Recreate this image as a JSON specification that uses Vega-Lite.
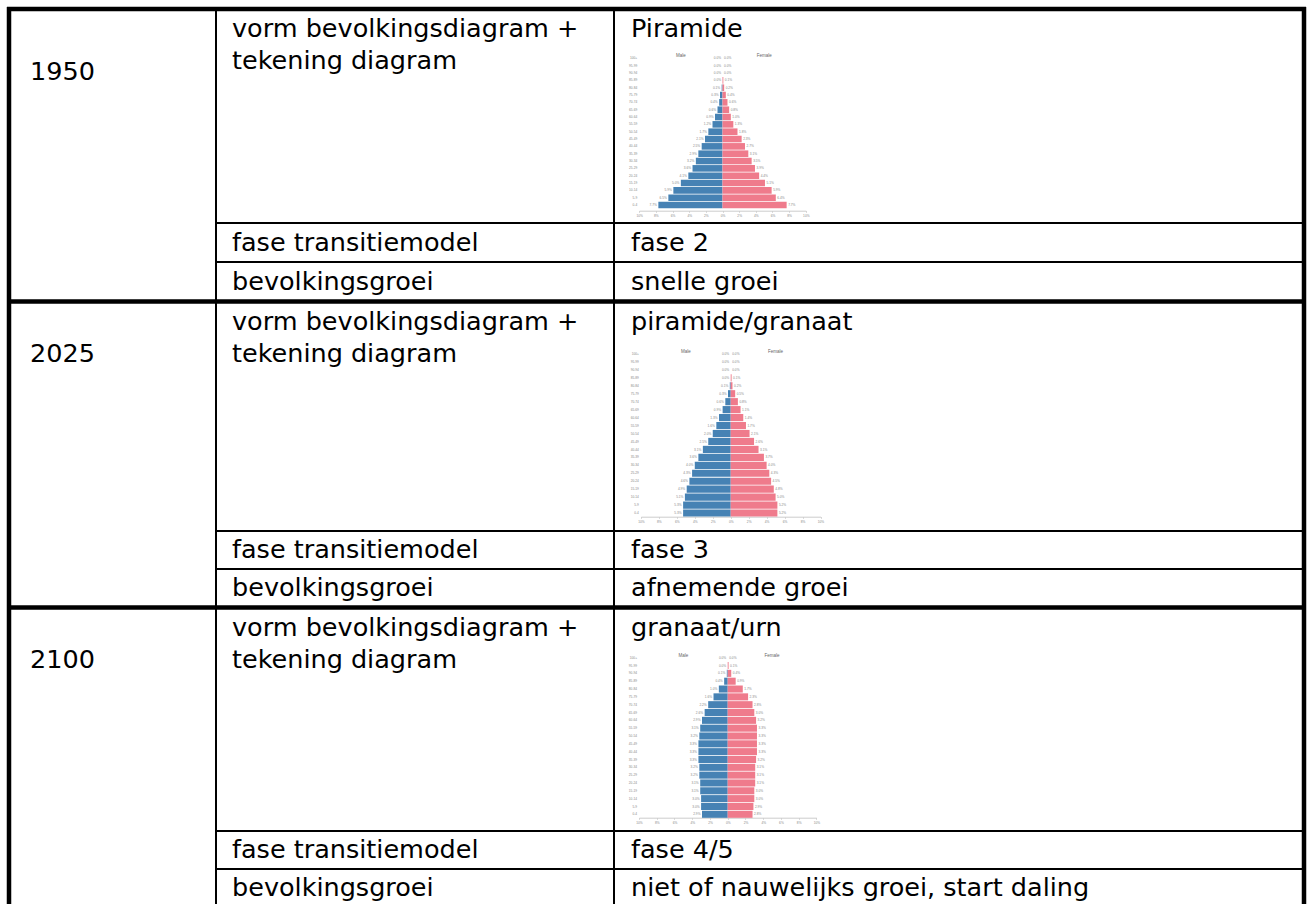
{
"$schema":"https://vega.github.io/schema/vega-lite/v6.json",
"width":1309,"height":904,"autosize":{"type":"none"},"padding":0,"background":"#ffffff",
"config":{"view":{"stroke":null},"font":"DejaVu Sans"},
"datasets":{
"lines":[
{"k":"thick","x":7,"x2":1306,"y":9,"y2":9},
{"k":"thick","x":9,"x2":9,"y":7,"y2":904},
{"k":"thick","x":1304,"x2":1304,"y":7,"y2":904},
{"k":"thick","x":7,"x2":1306,"y":301.5,"y2":301.5},
{"k":"thick","x":7,"x2":1306,"y":607.5,"y2":607.5},
{"k":"thin","x":216,"x2":216,"y":9,"y2":904},
{"k":"thin","x":614,"x2":614,"y":9,"y2":904},
{"k":"thin","x":216,"x2":1304,"y":223,"y2":223},
{"k":"thin","x":216,"x2":1304,"y":262,"y2":262},
{"k":"thin","x":216,"x2":1304,"y":531,"y2":531},
{"k":"thin","x":216,"x2":1304,"y":569,"y2":569},
{"k":"thin","x":216,"x2":1304,"y":831,"y2":831},
{"k":"thin","x":216,"x2":1304,"y":869,"y2":869}
],
"cells":[
{"x":30,"y":72,"t":"1950"},
{"x":232,"y":29,"t":"vorm bevolkingsdiagram +"},
{"x":232,"y":61,"t":"tekening diagram"},
{"x":631,"y":29,"t":"Piramide"},
{"x":232,"y":242.5,"t":"fase transitiemodel"},
{"x":631,"y":242.5,"t":"fase 2"},
{"x":232,"y":281.5,"t":"bevolkingsgroei"},
{"x":631,"y":281.5,"t":"snelle groei"},
{"x":30,"y":354,"t":"2025"},
{"x":232,"y":322,"t":"vorm bevolkingsdiagram +"},
{"x":232,"y":354,"t":"tekening diagram"},
{"x":631,"y":322,"t":"piramide/granaat"},
{"x":232,"y":550,"t":"fase transitiemodel"},
{"x":631,"y":550,"t":"fase 3"},
{"x":232,"y":588,"t":"bevolkingsgroei"},
{"x":631,"y":588,"t":"afnemende groei"},
{"x":30,"y":660,"t":"2100"},
{"x":232,"y":628,"t":"vorm bevolkingsdiagram +"},
{"x":232,"y":660,"t":"tekening diagram"},
{"x":631,"y":628,"t":"granaat/urn"},
{"x":232,"y":850,"t":"fase transitiemodel"},
{"x":631,"y":850,"t":"fase 4/5"},
{"x":232,"y":888,"t":"bevolkingsgroei"},
{"x":631,"y":888,"t":"niet of nauwelijks groei, start daling"}
],
"titles":[{"sex":"M","t":"Male","v":0.05,"age":"100+"},{"sex":"F","t":"Female","v":0.05,"age":"100+"}],
"p1950":[
{"age":"100+","sex":"M","v":0},{"age":"95-99","sex":"M","v":0},{"age":"90-94","sex":"M","v":0},{"age":"85-89","sex":"M","v":0},{"age":"80-84","sex":"M","v":0.001},{"age":"75-79","sex":"M","v":0.003},{"age":"70-74","sex":"M","v":0.004},{"age":"65-69","sex":"M","v":0.006},{"age":"60-64","sex":"M","v":0.009},{"age":"55-59","sex":"M","v":0.012},{"age":"50-54","sex":"M","v":0.017},{"age":"45-49","sex":"M","v":0.021},{"age":"40-44","sex":"M","v":0.025},{"age":"35-39","sex":"M","v":0.029},{"age":"30-34","sex":"M","v":0.032},{"age":"25-29","sex":"M","v":0.036},{"age":"20-24","sex":"M","v":0.041},{"age":"15-19","sex":"M","v":0.05},{"age":"10-14","sex":"M","v":0.059},{"age":"5-9","sex":"M","v":0.065},{"age":"0-4","sex":"M","v":0.077},
{"age":"100+","sex":"F","v":0},{"age":"95-99","sex":"F","v":0},{"age":"90-94","sex":"F","v":0},{"age":"85-89","sex":"F","v":0.001},{"age":"80-84","sex":"F","v":0.002},{"age":"75-79","sex":"F","v":0.004},{"age":"70-74","sex":"F","v":0.006},{"age":"65-69","sex":"F","v":0.008},{"age":"60-64","sex":"F","v":0.01},{"age":"55-59","sex":"F","v":0.013},{"age":"50-54","sex":"F","v":0.018},{"age":"45-49","sex":"F","v":0.023},{"age":"40-44","sex":"F","v":0.027},{"age":"35-39","sex":"F","v":0.031},{"age":"30-34","sex":"F","v":0.035},{"age":"25-29","sex":"F","v":0.039},{"age":"20-24","sex":"F","v":0.044},{"age":"15-19","sex":"F","v":0.051},{"age":"10-14","sex":"F","v":0.059},{"age":"5-9","sex":"F","v":0.064},{"age":"0-4","sex":"F","v":0.077}
],
"p2025":[
{"age":"100+","sex":"M","v":0},{"age":"95-99","sex":"M","v":0},{"age":"90-94","sex":"M","v":0},{"age":"85-89","sex":"M","v":0},{"age":"80-84","sex":"M","v":0.001},{"age":"75-79","sex":"M","v":0.003},{"age":"70-74","sex":"M","v":0.006},{"age":"65-69","sex":"M","v":0.009},{"age":"60-64","sex":"M","v":0.013},{"age":"55-59","sex":"M","v":0.016},{"age":"50-54","sex":"M","v":0.02},{"age":"45-49","sex":"M","v":0.025},{"age":"40-44","sex":"M","v":0.031},{"age":"35-39","sex":"M","v":0.036},{"age":"30-34","sex":"M","v":0.04},{"age":"25-29","sex":"M","v":0.043},{"age":"20-24","sex":"M","v":0.046},{"age":"15-19","sex":"M","v":0.049},{"age":"10-14","sex":"M","v":0.051},{"age":"5-9","sex":"M","v":0.053},{"age":"0-4","sex":"M","v":0.053},
{"age":"100+","sex":"F","v":0},{"age":"95-99","sex":"F","v":0},{"age":"90-94","sex":"F","v":0},{"age":"85-89","sex":"F","v":0.001},{"age":"80-84","sex":"F","v":0.002},{"age":"75-79","sex":"F","v":0.005},{"age":"70-74","sex":"F","v":0.008},{"age":"65-69","sex":"F","v":0.011},{"age":"60-64","sex":"F","v":0.014},{"age":"55-59","sex":"F","v":0.017},{"age":"50-54","sex":"F","v":0.021},{"age":"45-49","sex":"F","v":0.026},{"age":"40-44","sex":"F","v":0.031},{"age":"35-39","sex":"F","v":0.037},{"age":"30-34","sex":"F","v":0.04},{"age":"25-29","sex":"F","v":0.043},{"age":"20-24","sex":"F","v":0.045},{"age":"15-19","sex":"F","v":0.048},{"age":"10-14","sex":"F","v":0.05},{"age":"5-9","sex":"F","v":0.052},{"age":"0-4","sex":"F","v":0.052}
],
"p2100":[
{"age":"100+","sex":"M","v":0},{"age":"95-99","sex":"M","v":0},{"age":"90-94","sex":"M","v":0.001},{"age":"85-89","sex":"M","v":0.004},{"age":"80-84","sex":"M","v":0.01},{"age":"75-79","sex":"M","v":0.016},{"age":"70-74","sex":"M","v":0.022},{"age":"65-69","sex":"M","v":0.026},{"age":"60-64","sex":"M","v":0.029},{"age":"55-59","sex":"M","v":0.031},{"age":"50-54","sex":"M","v":0.032},{"age":"45-49","sex":"M","v":0.033},{"age":"40-44","sex":"M","v":0.033},{"age":"35-39","sex":"M","v":0.033},{"age":"30-34","sex":"M","v":0.032},{"age":"25-29","sex":"M","v":0.032},{"age":"20-24","sex":"M","v":0.031},{"age":"15-19","sex":"M","v":0.031},{"age":"10-14","sex":"M","v":0.03},{"age":"5-9","sex":"M","v":0.03},{"age":"0-4","sex":"M","v":0.029},
{"age":"100+","sex":"F","v":0},{"age":"95-99","sex":"F","v":0.001},{"age":"90-94","sex":"F","v":0.004},{"age":"85-89","sex":"F","v":0.009},{"age":"80-84","sex":"F","v":0.017},{"age":"75-79","sex":"F","v":0.023},{"age":"70-74","sex":"F","v":0.028},{"age":"65-69","sex":"F","v":0.03},{"age":"60-64","sex":"F","v":0.032},{"age":"55-59","sex":"F","v":0.033},{"age":"50-54","sex":"F","v":0.033},{"age":"45-49","sex":"F","v":0.033},{"age":"40-44","sex":"F","v":0.033},{"age":"35-39","sex":"F","v":0.032},{"age":"30-34","sex":"F","v":0.031},{"age":"25-29","sex":"F","v":0.031},{"age":"20-24","sex":"F","v":0.031},{"age":"15-19","sex":"F","v":0.03},{"age":"10-14","sex":"F","v":0.03},{"age":"5-9","sex":"F","v":0.029},{"age":"0-4","sex":"F","v":0.028}
]
},
"layer":[
{
"layer":[
{"data":{"name":"lines"},"transform":[{"filter":"datum.k==='thick'"}],"mark":{"type":"rule","strokeWidth":4.5,"color":"#000000"},
"encoding":{"x":{"field":"x","type":"quantitative","scale":{"domain":[0,1309],"range":[0,1309],"nice":false,"zero":false},"axis":null},"x2":{"field":"x2"},"y":{"field":"y","type":"quantitative","scale":{"domain":[0,904],"range":[0,904],"nice":false,"zero":false},"axis":null},"y2":{"field":"y2"}}},
{"data":{"name":"lines"},"transform":[{"filter":"datum.k==='thin'"}],"mark":{"type":"rule","strokeWidth":2,"color":"#000000"},
"encoding":{"x":{"field":"x","type":"quantitative","axis":null},"x2":{"field":"x2"},"y":{"field":"y","type":"quantitative","axis":null},"y2":{"field":"y2"}}},
{"data":{"name":"cells"},"mark":{"type":"text","align":"left","baseline":"middle","fontSize":25.5,"color":"#000000","font":"DejaVu Sans"},
"encoding":{"x":{"field":"x","type":"quantitative","axis":null},"y":{"field":"y","type":"quantitative","axis":null},"text":{"field":"t"}}}
]
},
{
"data":{"name":"p1950"},
"encoding":{"y":{"field":"age","type":"nominal","sort":null,"scale":{"domain":["100+","95-99","90-94","85-89","80-84","75-79","70-74","65-69","60-64","55-59","50-54","45-49","40-44","35-39","30-34","25-29","20-24","15-19","10-14","5-9","0-4"],"range":[54.7,208.7],"paddingInner":0.1,"paddingOuter":0.05},"axis":null}},
"layer":[
{"transform":[{"filter":"datum.sex==='M'"}],
"encoding":{"x":{"field":"v","type":"quantitative","scale":{"domain":[0,0.1],"range":[722.5,639.2],"nice":false},"axis":{"orient":"bottom","offset":-693.3,"values":[0,0.02,0.04,0.06,0.08,0.1],"format":".0%","title":null,"grid":false,"labelFontSize":3.2,"labelColor":"#888888","labelFont":"Liberation Sans","tickSize":1.5,"tickColor":"#cccccc","domainColor":"#cccccc","labelPadding":1,"labelFlush":false,"labelOverlap":false}}},
"layer":[
{"mark":{"type":"bar","color":"#4682b4"}},
{"mark":{"type":"text","align":"right","baseline":"middle","dx":-1.5,"fontSize":3.2,"color":"#888888","font":"Liberation Sans"},"encoding":{"text":{"field":"v","type":"quantitative","format":".1%"}}},
{"mark":{"type":"text","align":"right","baseline":"middle","dx":-2,"fontSize":3.2,"color":"#888888","font":"Liberation Sans"},"encoding":{"x":{"datum":0.1,"type":"quantitative"},"text":{"field":"age"}}},
{"data":{"values":[{}]},"mark":{"type":"rule","color":"#cccccc","strokeWidth":1},"encoding":{"x":{"datum":0.1,"type":"quantitative"},"y":{"datum":"100+","type":"nominal","bandPosition":0},"y2":{"datum":"0-4","bandPosition":1}}},
{"data":{"name":"titles"},"transform":[{"filter":"datum.sex==='M'"}],"mark":{"type":"text","baseline":"middle","dy":-2,"fontSize":4.5,"color":"#666666","font":"Liberation Sans"},"encoding":{"x":{"field":"v","type":"quantitative"},"y":{"field":"age","type":"nominal"},"text":{"field":"t"}}}
]},
{"transform":[{"filter":"datum.sex==='F'"}],
"encoding":{"x":{"field":"v","type":"quantitative","scale":{"domain":[0,0.1],"range":[722.5,805.8],"nice":false},"axis":{"orient":"bottom","offset":-693.3,"values":[0.02,0.04,0.06,0.08,0.1],"format":".0%","title":null,"grid":false,"labelFontSize":3.2,"labelColor":"#888888","labelFont":"Liberation Sans","tickSize":1.5,"tickColor":"#cccccc","domainColor":"#cccccc","labelPadding":1,"labelFlush":false,"labelOverlap":false}}},
"layer":[
{"mark":{"type":"bar","color":"#ef7b8c"}},
{"mark":{"type":"text","align":"left","baseline":"middle","dx":1.5,"fontSize":3.2,"color":"#888888","font":"Liberation Sans"},"encoding":{"text":{"field":"v","type":"quantitative","format":".1%"}}},
{"data":{"name":"titles"},"transform":[{"filter":"datum.sex==='F'"}],"mark":{"type":"text","baseline":"middle","dy":-2,"fontSize":4.5,"color":"#666666","font":"Liberation Sans"},"encoding":{"x":{"field":"v","type":"quantitative"},"y":{"field":"age","type":"nominal"},"text":{"field":"t"}}}
]}
],
"resolve":{"scale":{"x":"independent"}}
},
{
"data":{"name":"p2025"},
"encoding":{"y":{"field":"age","type":"nominal","sort":null,"scale":{"domain":["100+","95-99","90-94","85-89","80-84","75-79","70-74","65-69","60-64","55-59","50-54","45-49","40-44","35-39","30-34","25-29","20-24","15-19","10-14","5-9","0-4"],"range":[350,517],"paddingInner":0.1,"paddingOuter":0.05},"axis":null}},
"layer":[
{"transform":[{"filter":"datum.sex==='M'"}],
"encoding":{"x":{"field":"v","type":"quantitative","scale":{"domain":[0,0.1],"range":[730.7,640.9],"nice":false},"axis":{"orient":"bottom","offset":-387.3,"values":[0,0.02,0.04,0.06,0.08,0.1],"format":".0%","title":null,"grid":false,"labelFontSize":3.2,"labelColor":"#888888","labelFont":"Liberation Sans","tickSize":1.5,"tickColor":"#cccccc","domainColor":"#cccccc","labelPadding":1,"labelFlush":false,"labelOverlap":false}}},
"layer":[
{"mark":{"type":"bar","color":"#4682b4"}},
{"mark":{"type":"text","align":"right","baseline":"middle","dx":-1.5,"fontSize":3.2,"color":"#888888","font":"Liberation Sans"},"encoding":{"text":{"field":"v","type":"quantitative","format":".1%"}}},
{"mark":{"type":"text","align":"right","baseline":"middle","dx":-2,"fontSize":3.2,"color":"#888888","font":"Liberation Sans"},"encoding":{"x":{"datum":0.1,"type":"quantitative"},"text":{"field":"age"}}},
{"data":{"values":[{}]},"mark":{"type":"rule","color":"#cccccc","strokeWidth":1},"encoding":{"x":{"datum":0.1,"type":"quantitative"},"y":{"datum":"100+","type":"nominal","bandPosition":0},"y2":{"datum":"0-4","bandPosition":1}}},
{"data":{"name":"titles"},"transform":[{"filter":"datum.sex==='M'"}],"mark":{"type":"text","baseline":"middle","dy":-2,"fontSize":4.5,"color":"#666666","font":"Liberation Sans"},"encoding":{"x":{"field":"v","type":"quantitative"},"y":{"field":"age","type":"nominal"},"text":{"field":"t"}}}
]},
{"transform":[{"filter":"datum.sex==='F'"}],
"encoding":{"x":{"field":"v","type":"quantitative","scale":{"domain":[0,0.1],"range":[730.7,820.5],"nice":false},"axis":{"orient":"bottom","offset":-387.3,"values":[0.02,0.04,0.06,0.08,0.1],"format":".0%","title":null,"grid":false,"labelFontSize":3.2,"labelColor":"#888888","labelFont":"Liberation Sans","tickSize":1.5,"tickColor":"#cccccc","domainColor":"#cccccc","labelPadding":1,"labelFlush":false,"labelOverlap":false}}},
"layer":[
{"mark":{"type":"bar","color":"#ef7b8c"}},
{"mark":{"type":"text","align":"left","baseline":"middle","dx":1.5,"fontSize":3.2,"color":"#888888","font":"Liberation Sans"},"encoding":{"text":{"field":"v","type":"quantitative","format":".1%"}}},
{"data":{"name":"titles"},"transform":[{"filter":"datum.sex==='F'"}],"mark":{"type":"text","baseline":"middle","dy":-2,"fontSize":4.5,"color":"#666666","font":"Liberation Sans"},"encoding":{"x":{"field":"v","type":"quantitative"},"y":{"field":"age","type":"nominal"},"text":{"field":"t"}}}
]}
],
"resolve":{"scale":{"x":"independent"}}
},
{
"data":{"name":"p2100"},
"encoding":{"y":{"field":"age","type":"nominal","sort":null,"scale":{"domain":["100+","95-99","90-94","85-89","80-84","75-79","70-74","65-69","60-64","55-59","50-54","45-49","40-44","35-39","30-34","25-29","20-24","15-19","10-14","5-9","0-4"],"range":[653.8,818.2],"paddingInner":0.1,"paddingOuter":0.05},"axis":null}},
"layer":[
{"transform":[{"filter":"datum.sex==='M'"}],
"encoding":{"x":{"field":"v","type":"quantitative","scale":{"domain":[0,0.1],"range":[727.7,639],"nice":false},"axis":{"orient":"bottom","offset":-86.3,"values":[0,0.02,0.04,0.06,0.08,0.1],"format":".0%","title":null,"grid":false,"labelFontSize":3.2,"labelColor":"#888888","labelFont":"Liberation Sans","tickSize":1.5,"tickColor":"#cccccc","domainColor":"#cccccc","labelPadding":1,"labelFlush":false,"labelOverlap":false}}},
"layer":[
{"mark":{"type":"bar","color":"#4682b4"}},
{"mark":{"type":"text","align":"right","baseline":"middle","dx":-1.5,"fontSize":3.2,"color":"#888888","font":"Liberation Sans"},"encoding":{"text":{"field":"v","type":"quantitative","format":".1%"}}},
{"mark":{"type":"text","align":"right","baseline":"middle","dx":-2,"fontSize":3.2,"color":"#888888","font":"Liberation Sans"},"encoding":{"x":{"datum":0.1,"type":"quantitative"},"text":{"field":"age"}}},
{"data":{"values":[{}]},"mark":{"type":"rule","color":"#cccccc","strokeWidth":1},"encoding":{"x":{"datum":0.1,"type":"quantitative"},"y":{"datum":"100+","type":"nominal","bandPosition":0},"y2":{"datum":"0-4","bandPosition":1}}},
{"data":{"name":"titles"},"transform":[{"filter":"datum.sex==='M'"}],"mark":{"type":"text","baseline":"middle","dy":-2,"fontSize":4.5,"color":"#666666","font":"Liberation Sans"},"encoding":{"x":{"field":"v","type":"quantitative"},"y":{"field":"age","type":"nominal"},"text":{"field":"t"}}}
]},
{"transform":[{"filter":"datum.sex==='F'"}],
"encoding":{"x":{"field":"v","type":"quantitative","scale":{"domain":[0,0.1],"range":[727.7,816.4],"nice":false},"axis":{"orient":"bottom","offset":-86.3,"values":[0.02,0.04,0.06,0.08,0.1],"format":".0%","title":null,"grid":false,"labelFontSize":3.2,"labelColor":"#888888","labelFont":"Liberation Sans","tickSize":1.5,"tickColor":"#cccccc","domainColor":"#cccccc","labelPadding":1,"labelFlush":false,"labelOverlap":false}}},
"layer":[
{"mark":{"type":"bar","color":"#ef7b8c"}},
{"mark":{"type":"text","align":"left","baseline":"middle","dx":1.5,"fontSize":3.2,"color":"#888888","font":"Liberation Sans"},"encoding":{"text":{"field":"v","type":"quantitative","format":".1%"}}},
{"data":{"name":"titles"},"transform":[{"filter":"datum.sex==='F'"}],"mark":{"type":"text","baseline":"middle","dy":-2,"fontSize":4.5,"color":"#666666","font":"Liberation Sans"},"encoding":{"x":{"field":"v","type":"quantitative"},"y":{"field":"age","type":"nominal"},"text":{"field":"t"}}}
]}
],
"resolve":{"scale":{"x":"independent"}}
}
],
"resolve":{"scale":{"x":"independent","y":"independent"}}
}
